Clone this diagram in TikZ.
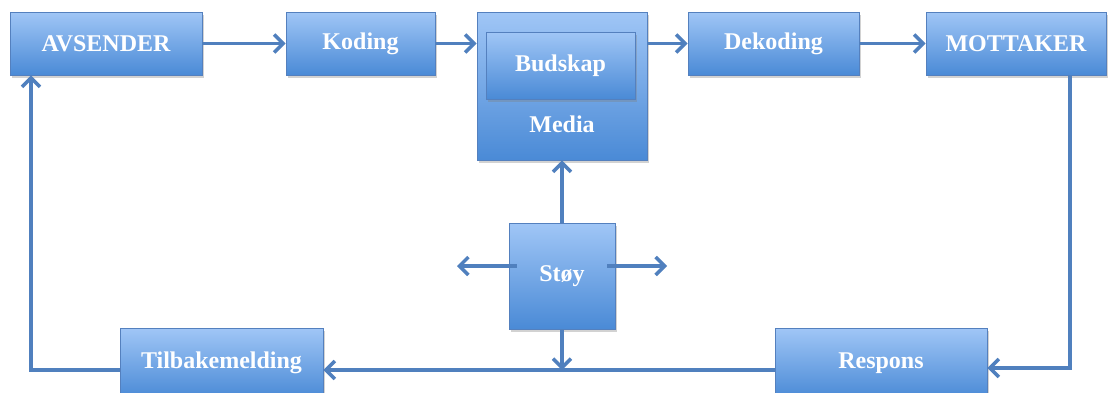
\documentclass[tikz,border=0pt]{standalone}
\usepackage{fontspec}
\setmainfont{Liberation Serif}
\usetikzlibrary{arrows.meta,shadows}
\definecolor{boxtop}{RGB}{160,198,246}
\definecolor{boxbot}{RGB}{74,138,214}
\definecolor{boxline}{RGB}{84,128,190}
\definecolor{arrcol}{RGB}{80,128,190}
\tikzset{
  lbl/.style={text=white, font=\bfseries\fontsize{24}{28}\selectfont},
  box/.style={rectangle, draw=boxline, line width=0.8pt, top color=boxtop, bottom color=boxbot,
    lbl, inner sep=0pt,
    drop shadow={opacity=0.35, shadow xshift=1.5pt, shadow yshift=-2.5pt}},
  arr/.style={draw=arrcol, line width=3.5pt, -{Straight Barb[length=9pt, width=18pt, line width=3.5pt]}}
}
\begin{document}
\begin{tikzpicture}[x=1pt,y=-1pt]
\clip (0,0) rectangle (1108,392);
\fill[white] (0,0) rectangle (1108,392);
\node[box, minimum width=192, minimum height=63] (avs) at (106,43.5) {AVSENDER};
\node[box, minimum width=149, minimum height=63] (kod) at (360.5,43.5) {Koding};
\node[box, minimum width=170, minimum height=148] (med) at (562,86) {};
\node[box, minimum width=149, minimum height=67] (bud) at (560.5,65.5) {Budskap};
\node[lbl] (medt) at (562,124) {Media};
\node[box, minimum width=171, minimum height=63] (dek) at (773.5,43.5) {Dekoding};
\node[box, minimum width=180, minimum height=63] (mot) at (1016,43.5) {MOTTAKER};
\node[box, minimum width=106, minimum height=106] (sty) at (562,276) {Støy};
\node[box, minimum width=203, minimum height=70] (til) at (221.5,363) {Tilbakemelding};
\node[box, minimum width=212, minimum height=70] (res) at (881,363) {Respons};
\coordinate (mr) at (1070,368);
\coordinate (bl) at (562,370);
\coordinate (lc) at (31,370);
\coordinate (sl) at (457,266);
\coordinate (sr) at (667,266);
\draw[arr] (avs.east) -- (kod.west);
\draw[arr] (kod.east) -- (kod.east -| med.west);
\draw[arr] (med.east |- dek.west) -- (dek.west);
\draw[arr] (dek.east) -- (mot.west);
\draw[arr] (mot.south -| mr) |- (res.east |- mr);
\draw[arr] (res.west |- bl) -- (til.east |- bl);
\draw[arr] (til.west |- lc) -| (avs.south -| lc);
\draw[arr] (sty.north) -- (med.south);
\draw[arr] ([xshift=8]sty.west |- sl) -- (sl);
\draw[arr] ([xshift=-8]sty.east |- sr) -- (sr);
\draw[arr] (sty.south) -- (bl);
\end{tikzpicture}
\end{document}
